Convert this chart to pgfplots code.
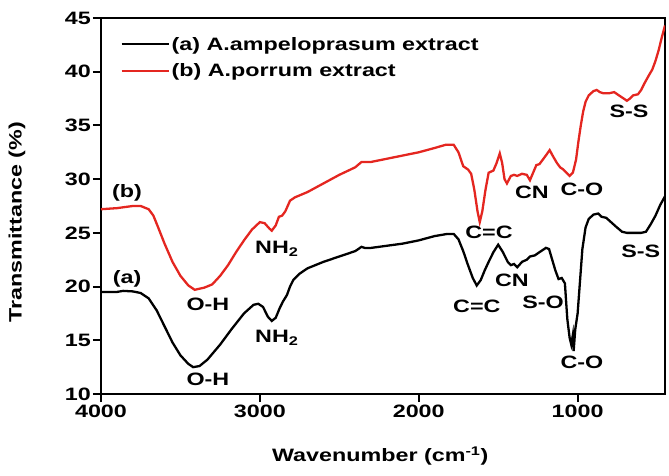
\documentclass[border=0pt]{standalone}
\usepackage{pgfplots}
\pgfplotsset{compat=1.18}
\usepackage{fontspec}
\setmainfont[FakeStretch=1.3]{Liberation Sans}
\definecolor{myred}{RGB}{228,38,32}
\newcommand{\lab}{\bfseries\fontsize{18}{21}\selectfont}
\begin{document}
\begin{tikzpicture}
\begin{axis}[
  scale only axis, width=564bp, height=376bp,
  x dir=reverse, xmin=450, xmax=4000, ymin=10, ymax=45,
  xtick={4000,3000,2000,1000}, ytick={10,15,...,45},
  tick pos=left, tick align=outside, major tick length=8bp,
  minor tick num=0,
  axis line style={line width=2pt}, every tick/.style={line width=2pt, black},
  /pgf/number format/assume math mode=true,
  /pgf/number format/1000 sep={},
  ticklabel style={font=\lab},
  yticklabel style={inner sep=2pt},
  xticklabel style={inner sep=3pt},
  xlabel={Wavenumber (cm\textsuperscript{-1})},
  ylabel={Transmittance (\%)},
  label style={font=\lab},
  xlabel style={at={(axis description cs:0.495,-0.165)}, anchor=center},
  ylabel style={at={(axis description cs:-0.149,0.457)}, anchor=center},
  legend style={at={(rel axis cs:0.034,0.955)}, anchor=north west, draw=none, fill=none,
    font=\lab, inner sep=0pt, row sep=8pt, nodes={inner sep=2pt}},
  legend cell align=left,
  legend image code/.code={\draw[#1] (0bp,0bp) -- (47bp,0bp);},
]
\addplot[black, line width=2.3pt] coordinates {
(4000,19.5)(3900,19.5)(3860,19.6)(3800,19.55)(3750,19.4)(3700,18.9)(3650,17.8)(3600,16.3)(3550,14.8)(3500,13.6)(3450,12.8)(3420,12.5)(3380,12.6)(3330,13.2)(3250,14.6)(3180,16.0)(3100,17.5)(3040,18.3)(3010,18.4)(2980,18.1)(2950,17.2)(2925,16.8)(2900,17.1)(2875,18.0)(2855,18.6)(2830,19.2)(2810,20.0)(2790,20.6)(2750,21.2)(2700,21.7)(2600,22.3)(2500,22.8)(2400,23.3)(2360,23.7)(2340,23.6)(2300,23.6)(2200,23.8)(2100,24.0)(2000,24.3)(1900,24.7)(1820,24.9)(1780,24.9)(1750,24.4)(1720,23.3)(1690,22.0)(1660,20.8)(1635,20.1)(1610,20.6)(1585,21.5)(1560,22.3)(1530,23.2)(1500,23.9)(1470,23.2)(1440,22.3)(1420,22.0)(1400,22.1)(1380,21.8)(1350,22.3)(1320,22.5)(1300,22.8)(1270,22.9)(1240,23.2)(1200,23.6)(1180,23.5)(1160,22.5)(1140,21.5)(1120,20.7)(1100,20.8)(1080,20.3)(1065,17.0)(1050,15.2)(1040,14.6)(1030,15.5)(1025,14.0)(1015,16.0)(1000,17.5)(985,20.5)(970,23.5)(950,25.5)(930,26.3)(900,26.7)(870,26.8)(850,26.5)(820,26.4)(790,26.0)(760,25.6)(720,25.1)(690,25.0)(650,25.0)(600,25.0)(570,25.1)(540,25.8)(510,26.6)(480,27.6)(450,28.4)
};
\addlegendentry{(a) A.ampeloprasum extract}
\addplot[myred, line width=2.3pt] coordinates {
(4000,27.2)(3900,27.3)(3800,27.5)(3750,27.5)(3700,27.2)(3670,26.6)(3640,25.5)(3600,24.0)(3550,22.3)(3500,21.0)(3450,20.1)(3410,19.7)(3350,19.9)(3300,20.2)(3250,21.0)(3200,22.0)(3150,23.2)(3100,24.3)(3050,25.3)(3000,26.0)(2970,25.9)(2940,25.4)(2925,25.2)(2900,25.7)(2880,26.5)(2860,26.6)(2840,27.0)(2810,28.0)(2780,28.3)(2700,28.8)(2600,29.6)(2500,30.4)(2400,31.1)(2360,31.6)(2300,31.6)(2200,31.9)(2100,32.2)(2000,32.5)(1900,32.9)(1830,33.2)(1780,33.2)(1750,32.5)(1720,31.2)(1690,30.9)(1670,30.5)(1650,29.0)(1630,27.0)(1616,26.0)(1600,27.0)(1580,29.0)(1560,30.6)(1530,30.8)(1510,31.5)(1490,32.4)(1475,31.5)(1460,30.0)(1445,29.6)(1420,30.3)(1400,30.4)(1380,30.3)(1350,30.5)(1320,30.4)(1300,29.9)(1280,30.6)(1260,31.3)(1240,31.4)(1220,31.8)(1200,32.2)(1176,32.7)(1150,32.0)(1130,31.5)(1110,31.1)(1090,30.9)(1070,30.6)(1050,30.3)(1030,30.6)(1010,31.8)(995,33.5)(980,35.0)(965,36.3)(950,37.2)(930,37.8)(900,38.2)(880,38.3)(860,38.1)(840,38.0)(800,38.0)(770,38.1)(750,37.9)(720,37.6)(690,37.3)(670,37.5)(650,37.8)(620,37.9)(600,38.3)(580,38.9)(550,39.7)(530,40.2)(510,41.0)(490,42.0)(470,43.2)(450,44.3)
};
\addlegendentry{(b) A.porrum extract}
\coordinate (SW) at (rel axis cs:0,0);
\coordinate (NE) at (rel axis cs:1,1);
\begin{scope}[every node/.style={font=\lab, anchor=base, inner sep=0pt}]
\node at (axis cs:3836,28.3) {(b)};
\node at (axis cs:3836,20.3) {(a)};
\node at (axis cs:3327,17.8) {O-H};
\node at (axis cs:3327,10.8) {O-H};
\node at (axis cs:2893,23.1) {NH\textsubscript{2}};
\node at (axis cs:2893,14.8) {NH\textsubscript{2}};
\node at (axis cs:1558,24.5) {C=C};
\node at (axis cs:1634,17.6) {C=C};
\node at (axis cs:1413,20.0) {CN};
\node at (axis cs:1218,18.0) {S-O};
\node at (axis cs:973,12.4) {C-O};
\node at (axis cs:602,22.75) {S-S};
\node at (axis cs:1288,28.2) {CN};
\node at (axis cs:973,28.5) {C-O};
\node at (axis cs:677,35.7) {S-S};
\end{scope}
\end{axis}
\pgfresetboundingbox
\useasboundingbox ([xshift=-101bp,yshift=-82bp]SW) rectangle ([xshift=4bp,yshift=18bp]NE);
\end{tikzpicture}
\end{document}
